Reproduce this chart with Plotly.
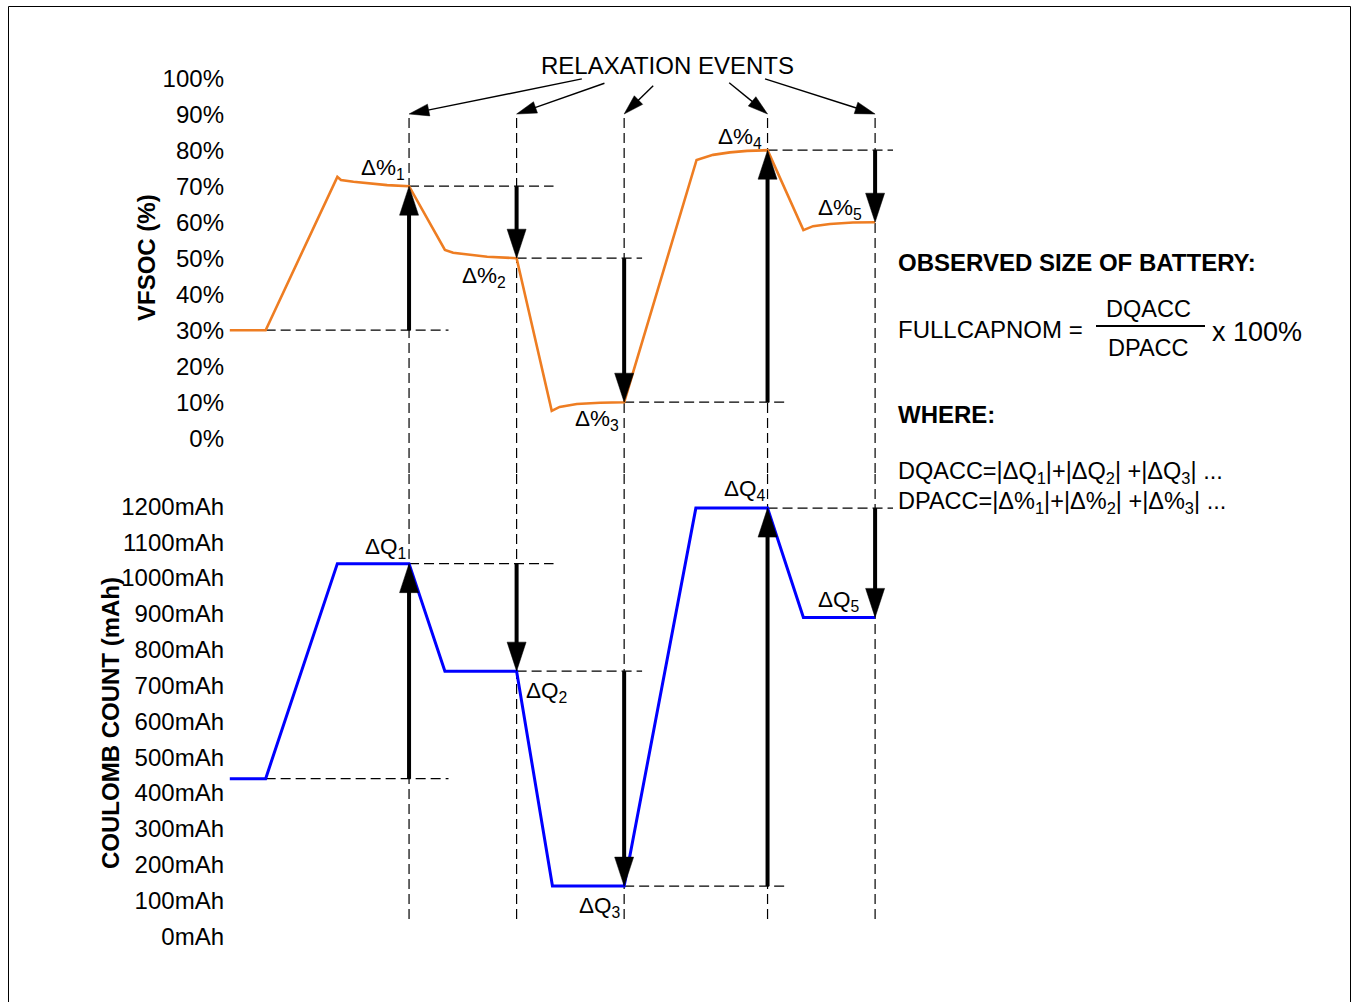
import math
import plotly.graph_objects as go

# ---------------- data ----------------
soc_tick_vals = [0, 10, 20, 30, 40, 50, 60, 70, 80, 90, 100]
soc_tick_text = ["0%", "10%", "20%", "30%", "40%", "50%", "60%", "70%", "80%", "90%", "100%"]
mah_tick_vals = [0, 100, 200, 300, 400, 500, 600, 700, 800, 900, 1000, 1100, 1200]
mah_tick_text = ["0mAh", "100mAh", "200mAh", "300mAh", "400mAh", "500mAh", "600mAh",
                 "700mAh", "800mAh", "900mAh", "1000mAh", "1100mAh", "1200mAh"]

# VFSOC trace (time in arbitrary units, SOC in %)
soc_time = [0, 1, 3, 3.1, 3.45, 3.83, 4.39, 5,
            6, 6.23, 6.7, 7.18, 8,
            8.98, 9.2, 9.68, 10.33, 11,
            13.02, 13.48, 13.95, 14.43, 15,
            16, 16.27, 16.74, 17.38, 18]
soc_pct = [30, 30, 72.6, 71.7, 71.25, 70.8, 70.3, 70,
           52.3, 51.5, 50.9, 50.4, 50,
           7.6, 8.7, 9.5, 9.85, 10,
           77.3, 78.7, 79.4, 79.8, 80,
           57.8, 58.9, 59.5, 59.9, 60]

# Coulomb count trace (mAh)
q_time = [0, 1, 3, 5, 6, 8, 9, 11, 13, 15, 16, 18]
q_mah = [440, 440, 1040, 1040, 740, 740, 140, 140, 1195, 1195, 890, 890]

# relaxation events
event_time = [5, 8, 11, 15, 18]
soc_start, mah_start = 30, 440
soc_event = [70, 50, 10, 80, 60]
mah_event = [1040, 740, 140, 1195, 890]

# horizontal dashed guides (level index, from time, to time)
guide_level_idx = [0, 1, 2, 3, 4]
guide_t_from = [1, 5, 8, 11, 15]
guide_t_to = [6.1, 9.03, 11.5, 15.5, 18.5]

soc_labels = ["Δ%<sub>1</sub>", "Δ%<sub>2</sub>", "Δ%<sub>3</sub>", "Δ%<sub>4</sub>", "Δ%<sub>5</sub>"]
soc_label_t = [4.27, 7.09, 10.24, 14.23, 17.02]
soc_label_v = [74.8, 44.8, 5.1, 83.4, 63.7]
q_labels = ["ΔQ<sub>1</sub>", "ΔQ<sub>2</sub>", "ΔQ<sub>3</sub>", "ΔQ<sub>4</sub>", "ΔQ<sub>5</sub>"]
q_label_t = [4.33, 8.82, 10.33, 14.37, 16.99]
q_label_v = [1084, 682, 82, 1246, 936]

# ---------------- layout constants ----------------
W, H = 1351, 1002
FONT = "Liberation Sans, Arial, sans-serif"
ORANGE = "#EE7D22"
BLUE = "#0000FF"

PX_PER_T = 35.85
T_ZERO_PX = 229.8
SPLIT_PY = 474
SOC_PX = 3.6      # px per %
SOC_REF_V, SOC_REF_PY = 50, 258.2
MAH_PX = 0.3583   # px per mAh
MAH_REF_V, MAH_REF_PY = 600, 721.3


def soc_at(py):
    return SOC_REF_V + (SOC_REF_PY - py) / SOC_PX


def mah_at(py):
    return MAH_REF_V + (MAH_REF_PY - py) / MAH_PX


def t_at(px):
    return (px - T_ZERO_PX) / PX_PER_T


x_range = [t_at(0), t_at(W)]
soc_range = [soc_at(SPLIT_PY), soc_at(0)]
mah_range = [mah_at(H), mah_at(SPLIT_PY)]
split = 1 - SPLIT_PY / H

fig = go.Figure()


def arrow_geom(x0, y0, x1, y1, sy, head_len, head_half):
    sx = PX_PER_T
    dx, dy = (x1 - x0) * sx, (y1 - y0) * sy
    L = math.hypot(dx, dy)
    ux, uy = dx / L, dy / L
    bx, by = x1 - ux * head_len / sx, y1 - uy * head_len / sy
    nx, ny = -uy, ux
    c1 = (bx + nx * head_half / sx, by + ny * head_half / sy)
    c2 = (bx - nx * head_half / sx, by - ny * head_half / sy)
    sbx, sby = x1 - ux * (head_len - 2) / sx, y1 - uy * (head_len - 2) / sy
    return ([x0, sbx], [y0, sby]), ([c1[0], x1, c2[0], c1[0]], [c1[1], y1, c2[1], c1[1]])


def add_arrows(segs, yaxis, sy, head_len, head_half, width):
    sx_, sy_, hx, hy = [], [], [], []
    for (x0, y0, x1, y1) in segs:
        (ax_, ay_), (tx, ty) = arrow_geom(x0, y0, x1, y1, sy, head_len, head_half)
        sx_ += ax_ + [None]
        sy_ += ay_ + [None]
        hx += tx + [None]
        hy += ty + [None]
    fig.add_trace(go.Scatter(x=sx_, y=sy_, mode="lines", yaxis=yaxis, hoverinfo="skip",
                             line=dict(color="black", width=width), showlegend=False))
    fig.add_trace(go.Scatter(x=hx, y=hy, mode="lines", yaxis=yaxis, fill="toself",
                             fillcolor="black", line=dict(color="black", width=0.5),
                             hoverinfo="skip", showlegend=False))


DASH = dict(color="black", width=1.2, dash="10px,5px")

# vertical dashed guides
vx1, vy1, vx2, vy2 = [], [], [], []
for t in event_time:
    vx1 += [t, t, None]
    vy1 += [soc_at(118), soc_range[0], None]
    vx2 += [t, t, None]
    vy2 += [mah_range[1], mah_at(922), None]
fig.add_trace(go.Scatter(x=vx1, y=vy1, mode="lines", line=DASH, yaxis="y",
                         hoverinfo="skip", showlegend=False))
fig.add_trace(go.Scatter(x=vx2, y=vy2, mode="lines", line=DASH, yaxis="y2",
                         hoverinfo="skip", showlegend=False))

# horizontal dashed guides
soc_levels = [soc_start] + soc_event
mah_levels = [mah_start] + mah_event
hx1, hy1, hx2, hy2 = [], [], [], []
for i, a, b in zip(guide_level_idx, guide_t_from, guide_t_to):
    hx1 += [a, b, None]
    hy1 += [soc_levels[i], soc_levels[i], None]
    hx2 += [a, b, None]
    hy2 += [mah_levels[i], mah_levels[i], None]
fig.add_trace(go.Scatter(x=hx1, y=hy1, mode="lines", line=DASH, yaxis="y",
                         hoverinfo="skip", showlegend=False))
fig.add_trace(go.Scatter(x=hx2, y=hy2, mode="lines", line=DASH, yaxis="y2",
                         hoverinfo="skip", showlegend=False))

# data lines
fig.add_trace(go.Scatter(x=soc_time, y=soc_pct, mode="lines", yaxis="y", name="VFSOC",
                         line=dict(color=ORANGE, width=2.6), showlegend=False))
fig.add_trace(go.Scatter(x=q_time, y=q_mah, mode="lines", yaxis="y2", name="Coulomb count",
                         line=dict(color=BLUE, width=3), showlegend=False))

# thick delta arrows
soc_segs = [(t, soc_levels[i], t, soc_levels[i + 1]) for i, t in enumerate(event_time)]
mah_segs = [(t, mah_levels[i], t, mah_levels[i + 1]) for i, t in enumerate(event_time)]
add_arrows(soc_segs, "y", SOC_PX, 29, 9.5, 4)
add_arrows(mah_segs, "y2", MAH_PX, 29, 9.5, 4)

# relaxation event pointers
relax_from_t = [9.82, 10.45, 11.81, 13.93, 14.93]
relax_from_v = [99.8, 98.6, 97.9, 98.75, 99.8]
relax_tip_v = soc_at(114)
relax_segs = [(a, b, t, relax_tip_v) for a, b, t in zip(relax_from_t, relax_from_v, event_time)]
add_arrows(relax_segs, "y", SOC_PX, 20, 6, 1.4)

annotations = []
TXT = dict(family=FONT, size=24, color="black")
TXT_EQ = dict(family=FONT, size=23.5, color="black")
TXT_LBL = dict(family=FONT, size=22.5, color="black")
TXT_BIG = dict(family=FONT, size=27, color="black")
annotations.append(dict(x=t_at(667), y=soc_at(65), xref="x", yref="y", text="RELAXATION EVENTS",
                        showarrow=False, font=TXT, xanchor="center", yanchor="middle"))
for s, t, v in zip(soc_labels, soc_label_t, soc_label_v):
    annotations.append(dict(x=t, y=v, xref="x", yref="y", text=s, showarrow=False,
                            font=TXT_LBL, xanchor="center", yanchor="middle"))
for s, t, v in zip(q_labels, q_label_t, q_label_v):
    annotations.append(dict(x=t, y=v, xref="x", yref="y2", text=s, showarrow=False,
                            font=TXT_LBL, xanchor="center", yanchor="middle"))

BOLD = dict(family=FONT, size=24, color="black", weight="bold")
annotations.append(dict(x=147 / W, y=1 - 258 / H, xref="paper", yref="paper",
                        text="<b>VFSOC (%)</b>", textangle=-90, showarrow=False, font=BOLD,
                        xanchor="center", yanchor="middle"))
annotations.append(dict(x=110 / W, y=1 - 723 / H, xref="paper", yref="paper",
                        text="<b>COULOMB COUNT (mAh)</b>", textangle=-90, showarrow=False,
                        font=BOLD, xanchor="center", yanchor="middle"))


def note(text, px, py, anchor="left", font=TXT):
    annotations.append(dict(x=px / W, y=1 - py / H, xref="paper", yref="paper", text=text,
                            showarrow=False, font=font, xanchor=anchor, yanchor="middle"))


note("<b>OBSERVED SIZE OF BATTERY:</b>", 896, 263, font=BOLD)
note("FULLCAPNOM =", 896, 329)
note("DQACC", 1148, 309, anchor="center", font=TXT_EQ)
note("DPACC", 1148, 348, anchor="center", font=TXT_EQ)
note("x 100%", 1210, 332, font=TXT_BIG)
note("<b>WHERE:</b>", 896, 415, font=BOLD)
note("DQACC=|ΔQ<sub>1</sub>|+|ΔQ<sub>2</sub>| +|ΔQ<sub>3</sub>| ...", 896, 473, font=TXT_EQ)
note("DPACC=|Δ%<sub>1</sub>|+|Δ%<sub>2</sub>| +|Δ%<sub>3</sub>| ...", 896, 502, font=TXT_EQ)

shapes = [
    dict(type="rect", xref="paper", yref="paper", x0=8.5 / W, x1=1350.5 / W,
         y0=-0.05, y1=1 - 6.5 / H, line=dict(color="black", width=1)),
    dict(type="line", xref="paper", yref="paper", x0=1096 / W, x1=1205 / W,
         y0=1 - 326 / H, y1=1 - 326 / H, line=dict(color="black", width=2)),
]

AXIS = dict(showgrid=False, zeroline=False, showline=False, ticks="",
            tickfont=dict(family=FONT, size=24, color="black"), anchor="free",
            position=224 / W, fixedrange=True)

fig.update_layout(
    width=W, height=H, margin=dict(l=0, r=0, t=0, b=0),
    paper_bgcolor="white", plot_bgcolor="white",
    showlegend=False, annotations=annotations, shapes=shapes,
    xaxis=dict(domain=[0, 1], range=x_range, visible=False, fixedrange=True),
    yaxis=dict(domain=[split, 1], range=soc_range, tickvals=soc_tick_vals,
               ticktext=soc_tick_text, **AXIS),
    yaxis2=dict(domain=[0, split], range=mah_range, tickvals=mah_tick_vals,
                ticktext=mah_tick_text, **AXIS),
)

fig.write_html(
    "out.html",
    config={"displayModeBar": False},
    post_script="document.body.style.margin='0px';document.body.style.overflow='hidden';",
)
